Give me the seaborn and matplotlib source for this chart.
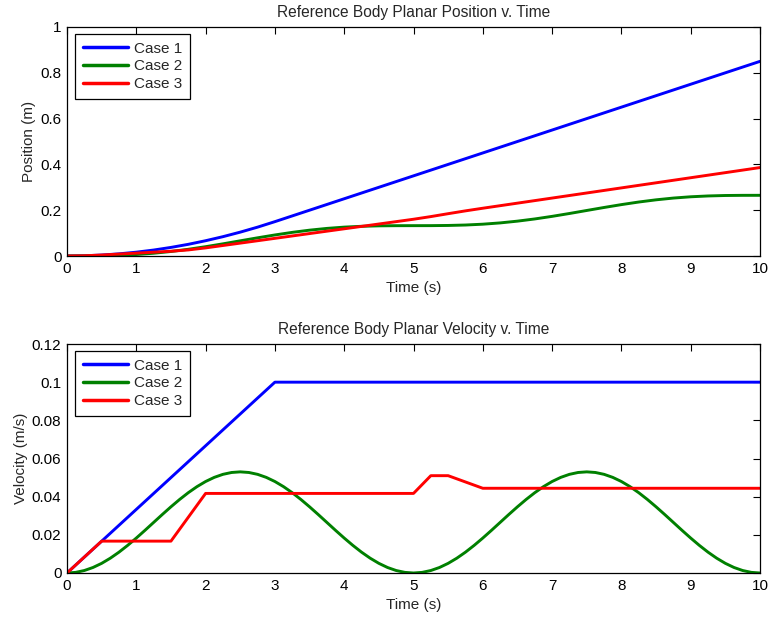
import numpy as np
import pandas as pd
import matplotlib
matplotlib.use("Agg")
import matplotlib.pyplot as plt
from matplotlib.ticker import FuncFormatter, MultipleLocator
import seaborn as sns

# ---- data -------------------------------------------------------------
cases = ["Case 1", "Case 2", "Case 3"]

# position (m)
pos1_t = [0.0, 0.25, 0.5, 0.75, 1.0, 1.25, 1.5, 1.75, 2.0, 2.25, 2.5, 2.75, 3.0, 10.0]
pos1 = [0.0, 0.0010, 0.0042, 0.0094, 0.0167, 0.0260, 0.0375, 0.0510, 0.0667,
        0.0844, 0.1042, 0.1260, 0.1500, 0.8500]
pos2_t = [0.0, 0.25, 0.5, 0.75, 1.0, 1.25, 1.5, 1.75, 2.0, 2.25, 2.5, 2.75,
          3.0, 3.25, 3.5, 3.75, 4.0, 4.25, 4.5, 4.75, 5.0, 5.25, 5.5, 5.75,
          6.0, 6.25, 6.5, 6.75, 7.0, 7.25, 7.5, 7.75, 8.0, 8.25, 8.5, 8.75,
          9.0, 9.25, 9.5, 9.75, 10.0]
pos2 = [0.0, 0.0001, 0.0009, 0.0028, 0.0064, 0.0120, 0.0197, 0.0293, 0.0406,
        0.0531, 0.0663, 0.0794, 0.0919, 0.1032, 0.1128, 0.1205, 0.1261, 0.1297,
        0.1317, 0.1324, 0.1325, 0.1326, 0.1334, 0.1353, 0.1389, 0.1445, 0.1522,
        0.1618, 0.1731, 0.1856, 0.1988, 0.2119, 0.2244, 0.2357, 0.2453, 0.2530,
        0.2586, 0.2622, 0.2642, 0.2649, 0.2650]
pos3_t = [0.0, 0.25, 0.5, 1.0, 1.5, 1.75, 2.0, 5.0, 5.25, 5.5, 5.75, 6.0, 10.0]
pos3 = [0.0, 0.0010, 0.0042, 0.0125, 0.0208, 0.0265, 0.0354, 0.1605, 0.1721,
        0.1848, 0.1971, 0.2086, 0.3862]

# velocity (m/s)
vel1_t = [0.0, 3.0, 10.0]
vel1 = [0.0, 0.1, 0.1]
vel2_t = [0.0, 0.125, 0.25, 0.375, 0.5, 0.625, 0.75, 0.875, 1.0, 1.125, 1.25,
          1.375, 1.5, 1.625, 1.75, 1.875, 2.0, 2.125, 2.25, 2.375, 2.5, 2.625,
          2.75, 2.875, 3.0, 3.125, 3.25, 3.375, 3.5, 3.625, 3.75, 3.875, 4.0,
          4.125, 4.25, 4.375, 4.5, 4.625, 4.75, 4.875, 5.0, 5.125, 5.25, 5.375,
          5.5, 5.625, 5.75, 5.875, 6.0, 6.125, 6.25, 6.375, 6.5, 6.625, 6.75,
          6.875, 7.0, 7.125, 7.25, 7.375, 7.5, 7.625, 7.75, 7.875, 8.0, 8.125,
          8.25, 8.375, 8.5, 8.625, 8.75, 8.875, 9.0, 9.125, 9.25, 9.375, 9.5,
          9.625, 9.75, 9.875, 10.0]
vel2 = [0.0, 0.00033, 0.00130, 0.00289, 0.00506, 0.00776, 0.01092, 0.01447,
        0.01831, 0.02235, 0.02650, 0.03065, 0.03469, 0.03853, 0.04208, 0.04524,
        0.04794, 0.05011, 0.05170, 0.05267, 0.05300, 0.05267, 0.05170, 0.05011,
        0.04794, 0.04524, 0.04208, 0.03853, 0.03469, 0.03065, 0.02650, 0.02235,
        0.01831, 0.01447, 0.01092, 0.00776, 0.00506, 0.00289, 0.00130, 0.00033,
        0.0, 0.00033, 0.00130, 0.00289, 0.00506, 0.00776, 0.01092, 0.01447,
        0.01831, 0.02235, 0.02650, 0.03065, 0.03469, 0.03853, 0.04208, 0.04524,
        0.04794, 0.05011, 0.05170, 0.05267, 0.05300, 0.05267, 0.05170, 0.05011,
        0.04794, 0.04524, 0.04208, 0.03853, 0.03469, 0.03065, 0.02650, 0.02235,
        0.01831, 0.01447, 0.01092, 0.00776, 0.00506, 0.00289, 0.00130, 0.00033,
        0.0]
vel3_t = [0.0, 0.5, 1.5, 2.0, 5.0, 5.25, 5.5, 6.0, 10.0]
vel3 = [0.0, 0.0167, 0.0167, 0.0417, 0.0417, 0.0510, 0.0510, 0.0444, 0.0444]

colors = ["#0000ff", "#008000", "#ff0000"]


def long_frame(series):
    parts = []
    for name, t, y in series:
        parts.append(pd.DataFrame({"t": t, "y": y, "case": name}))
    return pd.concat(parts, ignore_index=True)


pos_df = long_frame([(cases[0], pos1_t, pos1), (cases[1], pos2_t, pos2),
                     (cases[2], pos3_t, pos3)])
vel_df = long_frame([(cases[0], vel1_t, vel1), (cases[1], vel2_t, vel2),
                     (cases[2], vel3_t, vel3)])

# ---- style ------------------------------------------------------------
sns.set_style("white")
plt.rcParams["font.family"] = ["Liberation Sans", "DejaVu Sans"]
plt.rcParams["font.size"] = 11

fig = plt.figure(figsize=(7.7, 6.18), dpi=100)
W, H = 770, 618
ax_top = fig.add_axes([67 / W, 1 - 256 / H, 693 / W, 229 / H])
ax_bot = fig.add_axes([67 / W, 1 - 573 / H, 693 / W, 229 / H])

fmt = FuncFormatter(lambda v, _: f"{v:g}")


def draw(ax, df, title, ylabel, ymax, ystep):
    sns.lineplot(data=df, x="t", y="y", hue="case", palette=colors,
                 estimator=None, sort=False, linewidth=2.1, ax=ax)
    ax.set_xlim(0, 10)
    ax.set_ylim(0, ymax)
    ax.xaxis.set_major_locator(MultipleLocator(1))
    ax.yaxis.set_major_locator(MultipleLocator(ystep))
    ax.xaxis.set_major_formatter(fmt)
    ax.yaxis.set_major_formatter(fmt)
    ax.tick_params(direction="in", length=5, width=0.8, top=True, right=True,
                   labelsize=11, pad=4, colors="black")
    for s in ax.spines.values():
        s.set_visible(True)
        s.set_color("black")
        s.set_linewidth(0.9)
    ax.set_title(title, fontsize=11.2, pad=7)
    ax.set_xlabel("Time (s)", fontsize=11, labelpad=4)
    ax.set_ylabel(ylabel, fontsize=11, labelpad=3)
    leg = ax.legend(loc="upper left", bbox_to_anchor=(0.0115, 0.97),
                    handlelength=2.95, fontsize=11, fancybox=False,
                    framealpha=1, edgecolor="black", borderpad=0.5,
                    labelspacing=0.25, handletextpad=0.4, borderaxespad=0)
    leg.get_frame().set_linewidth(0.9)
    for line in leg.get_lines():
        line.set_linewidth(2.5)


draw(ax_top, pos_df, "Reference Body Planar Position v. Time", "Position (m)",
     1.0, 0.2)
draw(ax_bot, vel_df, "Reference Body Planar Velocity v. Time", "Velocity (m/s)",
     0.12, 0.02)

fig.savefig("out.png", dpi=100, facecolor="white")
